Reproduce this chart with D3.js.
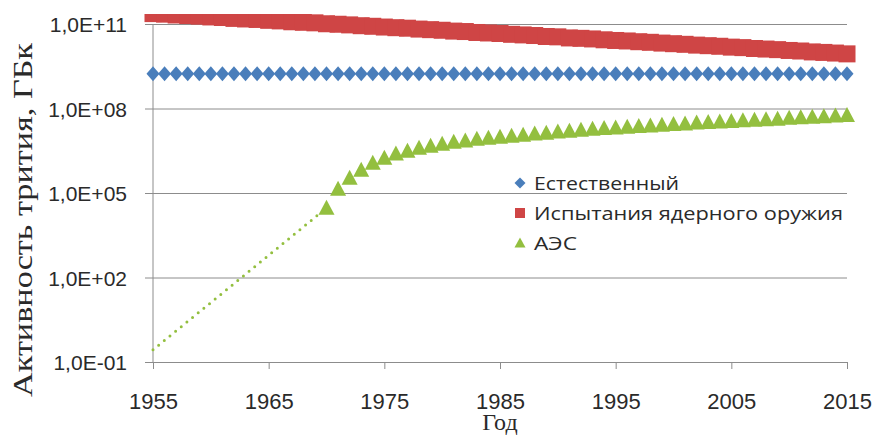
<!DOCTYPE html>
<html>
<head>
<meta charset="utf-8">
<script src="https://cdn.jsdelivr.net/npm/d3@7"></script>
<style>
  html, body { margin: 0; padding: 0; background: #fff; }
  svg { display: block; }
</style>
</head>
<body>
<svg id="chart" width="875" height="435"></svg>
<script>
// Years 1955..2015, one point per year
const years = [1955,1956,1957,1958,1959,1960,1961,1962,1963,1964,1965,1966,1967,1968,1969,1970,1971,1972,1973,1974,1975,1976,1977,1978,1979,1980,1981,1982,1983,1984,1985,1986,1987,1988,1989,1990,1991,1992,1993,1994,1995,1996,1997,1998,1999,2000,2001,2002,2003,2004,2005,2006,2007,2008,2009,2010,2011,2012,2013,2014,2015];

// Natural tritium, GBq
const natural = [1.7e9,1.7e9,1.7e9,1.7e9,1.7e9,1.7e9,1.7e9,1.7e9,1.7e9,1.7e9,1.7e9,1.7e9,1.7e9,1.7e9,1.7e9,1.7e9,1.7e9,1.7e9,1.7e9,1.7e9,1.7e9,1.7e9,1.7e9,1.7e9,1.7e9,1.7e9,1.7e9,1.7e9,1.7e9,1.7e9,1.7e9,1.7e9,1.7e9,1.7e9,1.7e9,1.7e9,1.7e9,1.7e9,1.7e9,1.7e9,1.7e9,1.7e9,1.7e9,1.7e9,1.7e9,1.7e9,1.7e9,1.7e9,1.7e9,1.7e9,1.7e9,1.7e9,1.7e9,1.7e9,1.7e9,1.7e9,1.7e9,1.7e9,1.7e9,1.7e9,1.7e9];

// Tritium from nuclear weapons tests, GBq
const weapons = [2.34e11,2.24e11,2.09e11,2.0e11,1.9e11,1.78e11,1.7e11,1.58e11,1.51e11,1.45e11,1.35e11,1.29e11,1.2e11,1.15e11,1.1e11,1.02e11,9.8e10,9.3e10,8.7e10,8.3e10,7.8e10,7.4e10,7.1e10,6.6e10,6.3e10,6.0e10,5.6e10,5.4e10,5.0e10,4.8e10,4.6e10,4.3e10,4.1e10,3.9e10,3.6e10,3.5e10,3.2e10,3.1e10,2.95e10,2.75e10,2.6e10,2.5e10,2.35e10,2.24e10,2.1e10,2.0e10,1.9e10,1.78e10,1.7e10,1.62e10,1.51e10,1.45e10,1.35e10,1.29e10,1.23e10,1.15e10,1.1e10,1.02e10,9.8e9,9.3e9,8.7e9];

// Tritium from nuclear power plants (1970..2015), GBq
const npYears = [1970,1971,1972,1973,1974,1975,1976,1977,1978,1979,1980,1981,1982,1983,1984,1985,1986,1987,1988,1989,1990,1991,1992,1993,1994,1995,1996,1997,1998,1999,2000,2001,2002,2003,2004,2005,2006,2007,2008,2009,2010,2011,2012,2013,2014,2015];
const nuclearPlants = [2.95e4,1.38e5,3.4e5,6.6e5,1.17e6,1.74e6,2.45e6,3.1e6,4.0e6,4.7e6,5.5e6,6.5e6,7.2e6,8.3e6,8.9e6,9.8e6,1.05e7,1.15e7,1.26e7,1.35e7,1.48e7,1.58e7,1.74e7,1.86e7,2.0e7,2.09e7,2.19e7,2.34e7,2.45e7,2.57e7,2.75e7,2.88e7,3.09e7,3.24e7,3.39e7,3.55e7,3.72e7,3.89e7,4.07e7,4.27e7,4.57e7,4.79e7,5.0e7,5.25e7,5.5e7,5.75e7];

// Dotted back-extrapolation of the power-plant series
const extrapYears = [1955, 1970];
const extrapValues = [0.27, 2.95e4];

const xTicks = [1955, 1965, 1975, 1985, 1995, 2005, 2015];
const yTicks = [1e-1, 1e2, 1e5, 1e8, 1e11];
const yTickLabels = ["1,0E-01", "1,0E+02", "1,0E+05", "1,0E+08", "1,0E+11"];

const seriesNames = ["Естественный", "Испытания ядерного оружия", "АЭС"];
const colors = { blue: "#4a7ebb", red: "#cf4545", green: "#93bf3f" };

const svg = d3.select("#chart");
const plotLeft = 153, plotRight = 847, plotTop = 24, plotBottom = 362;

const x = d3.scaleLinear().domain([1955, 2015]).range([plotLeft, plotRight]);
const y = d3.scaleLog().domain([1e-1, 1e11]).range([plotBottom, plotTop]);

const gridColor = "#8c8c8c";
const sansFont = "'Liberation Sans', Arial, sans-serif";
const legendFont = "'Open Sans', 'Liberation Sans', sans-serif";
const serifFont = "'Liberation Serif', 'Times New Roman', serif";

// Clip region for the data marks
svg.append("defs").append("clipPath").attr("id", "area")
  .append("rect").attr("x", 0).attr("y", 14).attr("width", 875).attr("height", 421);

// Horizontal gridlines + y axis labels
const yAxis = d3.axisLeft(y).tickValues(yTicks)
  .tickSize(0).tickSizeOuter(0)
  .tickFormat((d, i) => yTickLabels[i]);
const gy = svg.append("g").attr("transform", `translate(${plotLeft - 8},0)`).call(yAxis);
gy.select(".domain").remove();
gy.selectAll(".tick line").attr("stroke", gridColor).attr("stroke-width", 1)
  .attr("x1", 0).attr("x2", plotRight - plotLeft + 8);
gy.selectAll(".tick text")
  .attr("x", 127 - (plotLeft - 8)).attr("dy", "0.36em")
  .attr("text-anchor", "end")
  .attr("font-family", sansFont)
  .attr("font-size", 21).attr("fill", "#2a2a2a");

// Vertical y-axis line
svg.append("line").attr("x1", plotLeft).attr("x2", plotLeft).attr("y1", plotTop).attr("y2", plotBottom)
  .attr("stroke", gridColor).attr("stroke-width", 1);

// X axis
const xAxis = d3.axisBottom(x).tickValues(xTicks).tickFormat(d3.format("d"))
  .tickSize(7).tickSizeOuter(0);
const gx = svg.append("g").attr("transform", `translate(0,${plotBottom})`).call(xAxis);
gx.select(".domain").attr("stroke", gridColor);
gx.selectAll(".tick line").attr("stroke", gridColor);
gx.selectAll(".tick text")
  .attr("y", 47).attr("dy", 0)
  .attr("font-family", sansFont)
  .attr("font-size", 22).attr("fill", "#2a2a2a");

// Axis titles
svg.append("text").attr("x", (plotLeft + plotRight) / 2).attr("y", 430)
  .attr("text-anchor", "middle")
  .attr("font-family", serifFont)
  .attr("font-size", 24).attr("fill", "#2a2a2a").text("Год");

svg.append("text")
  .attr("transform", "translate(32,220) rotate(-90)")
  .attr("text-anchor", "middle")
  .attr("font-family", serifFont)
  .attr("font-size", 28).attr("fill", "#2a2a2a")
  .attr("textLength", 354).attr("lengthAdjust", "spacingAndGlyphs")
  .text("Активность трития, ГБк");

const marks = svg.append("g").attr("clip-path", "url(#area)");

// Dotted extrapolation line
marks.append("path")
  .attr("d", d3.line().x(d => x(d[0])).y(d => y(d[1]))(extrapYears.map((yr, i) => [yr, extrapValues[i]])))
  .attr("fill", "none").attr("stroke", colors.green)
  .attr("stroke-width", 3).attr("stroke-linecap", "round")
  .attr("stroke-dasharray", "0 7.3");

// Natural: diamonds
const diamond = (hw, hh) => `M0,${-hh}L${hw},0L0,${hh}L${-hw},0Z`;
marks.append("g").selectAll("path").data(years).join("path")
  .attr("transform", (d, i) => `translate(${x(d)},${y(natural[i])})`)
  .attr("d", diamond(6.5, 7.5)).attr("fill", colors.blue);

// Weapons tests: squares
const sq = 17;
marks.append("g").selectAll("rect").data(years).join("rect")
  .attr("x", d => x(d) - sq / 2)
  .attr("y", (d, i) => y(weapons[i]) - sq / 2)
  .attr("width", sq).attr("height", sq).attr("fill", colors.red);

// Nuclear power plants: triangles
const tri = (hw, h) => `M0,${-h * 0.55}L${hw},${h * 0.45}L${-hw},${h * 0.45}Z`;
marks.append("g").selectAll("path").data(npYears).join("path")
  .attr("transform", (d, i) => `translate(${x(d)},${y(nuclearPlants[i])})`)
  .attr("d", tri(8, 15)).attr("fill", colors.green);

// Legend (no frame; gridlines show through)
const legend = svg.append("g");
const rowY = [183, 213, 243];
const labelWidths = [145, 309, 43];
const legendMarks = [
  g => g.append("path").attr("d", diamond(5.5, 5.5)).attr("fill", colors.blue),
  g => g.append("rect").attr("x", -5).attr("y", -5).attr("width", 10).attr("height", 10).attr("fill", colors.red),
  g => g.append("path").attr("d", tri(5.5, 10)).attr("fill", colors.green)
];
seriesNames.forEach((name, i) => {
  const g = legend.append("g").attr("transform", `translate(520,${rowY[i]})`);
  legendMarks[i](g);
  legend.append("text").attr("x", 534).attr("y", rowY[i] + 6.5)
    .attr("font-family", legendFont)
    .attr("font-size", 18).attr("fill", "#2a2a2a")
    .attr("textLength", labelWidths[i]).attr("lengthAdjust", "spacingAndGlyphs")
    .text(name);
});
</script>
</body>
</html>
